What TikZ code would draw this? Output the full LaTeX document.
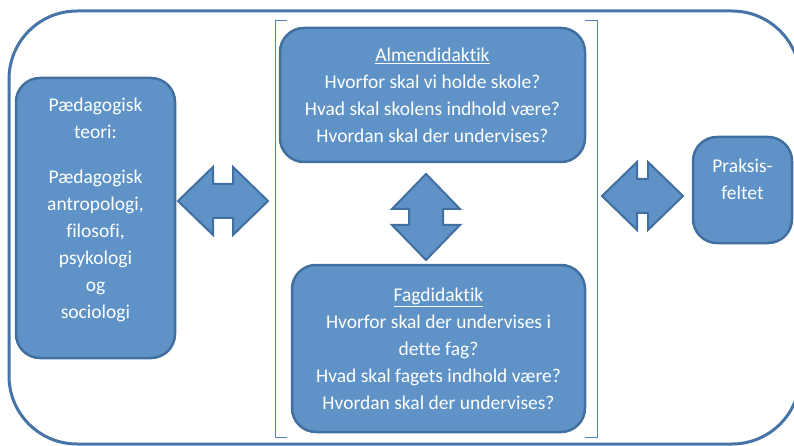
\documentclass[tikz,border=0pt]{standalone}
\usepackage{fontspec}
\setmainfont[Ligatures=NoCommon]{Carlito}
\usetikzlibrary{calc}
\definecolor{boxfill}{RGB}{95,147,200}
\definecolor{boxline}{RGB}{65,112,160}
\definecolor{frameline}{RGB}{70,116,166}
\definecolor{bracketline}{RGB}{79,129,189}
\tikzset{
  boxtext/.style={text=white,align=center,inner sep=0pt,font=\fontsize{19.5}{27}\selectfont},
  box/.style={boxtext,draw=boxline,fill=boxfill,line width=2.5pt,rounded corners=24pt},
  blockarrow/.style={draw=boxline,fill=boxfill,line width=2pt,line join=miter},
  bracket/.style={draw=bracketline,line width=0.9pt}
}
\newcommand{\dblarrow}[3]{%
  \draw[blockarrow,shift={#1},rotate=#3] (-#2,0) -- ++(35,-34) -- ++(0,17) -- (#2-35,-17) -- ++(0,-17) -- (#2,0) -- ++(-35,34) -- ++(0,-17) -- (-#2+35,17) -- ++(0,17) -- cycle;}

\begin{document}
\begin{tikzpicture}[x=1pt,y=-1pt]
            \useasboundingbox (0,0) rectangle (794,446);
            \clip (0,0) rectangle (794,446);
            \draw[frameline,line width=3pt,rounded corners=68pt] (9,11) rectangle (800,444);

            \draw[bracket] (287,20) -- (275,20) -- (275,437) -- (287,437);
            \draw[bracket] (585,20) -- (597,20) -- (597,437) -- (585,437);

            \node[box,minimum width=159pt,minimum height=280pt,label={[boxtext,yshift=8pt]center:{P\ae dagogisk\\teori:\\[18pt]P\ae dagogisk\\antropologi,\\filosofi,\\psykologi\\og\\sociologi}}] (ped) at (95.5,218) {};
            \node[box,minimum width=305pt,minimum height=134pt] (alm) at (432.5,95) {\underline{Almendidaktik}\\Hvorfor skal vi holde skole?\\Hvad skal skolens indhold være?\\Hvordan skal der undervises?};
            \node[box,minimum width=293pt,minimum height=167pt] (fag) at (438.5,348.5) {\underline{Fagdidaktik}\\Hvorfor skal der undervises i\\dette fag?\\Hvad skal fagets indhold være?\\Hvordan skal der undervises?};
            \node[box,minimum width=99pt,minimum height=106pt,label={[boxtext,yshift=11pt]center:{Praksis-\\feltet}}] (praks) at (742.5,190) {};

            \dblarrow{(223,201)}{45}{0}
            \dblarrow{(426,217)}{43}{90}
            \dblarrow{(642.5,196)}{40.5}{0}
        \end{tikzpicture}
\end{document}
